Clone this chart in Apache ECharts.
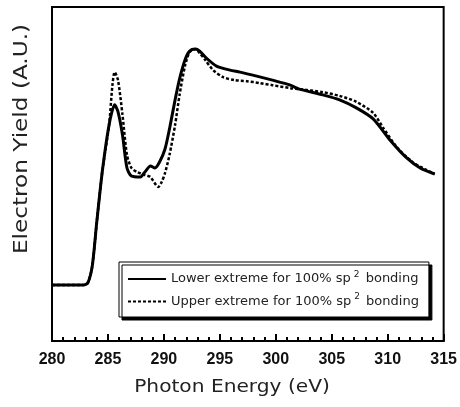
<!DOCTYPE html>
<html>
<head>
<meta charset="utf-8">
<script src="https://cdn.jsdelivr.net/npm/echarts@6/dist/echarts.min.js"></script>
<style>
html,body{margin:0;padding:0;background:#fff;}
#chart{width:460px;height:407px;}
</style>
</head>
<body>
<div id="chart"></div>
<script>
// Photon energy (eV) and electron yield (arbitrary units)
var lowerExtreme = [
  [280.0,0.168],[282.8,0.168],[283.2,0.174],[283.6,0.225],[284.0,0.356],[284.5,0.509],
  [285.1,0.647],[285.6,0.707],[285.9,0.686],[286.3,0.617],[286.7,0.518],[287.1,0.494],
  [287.9,0.491],[288.3,0.506],[288.8,0.524],[289.2,0.518],[289.6,0.535],[290.1,0.575],
  [290.5,0.635],[291.0,0.722],[291.4,0.785],[291.9,0.843],[292.3,0.868],[292.8,0.874],
  [293.2,0.868],[293.8,0.847],[294.7,0.823],[295.9,0.811],[296.8,0.805],[298.3,0.793],
  [299.7,0.781],[301.3,0.766],[302.1,0.754],[304.2,0.737],[305.7,0.722],[307.2,0.698],
  [308.7,0.665],[310.2,0.602],[311.7,0.548],[312.9,0.518],[314.2,0.500]
];
var upperExtreme = [
  [280.0,0.168],[282.8,0.168],[283.2,0.174],[283.6,0.225],[284.0,0.356],[284.5,0.509],
  [285.1,0.647],[285.4,0.766],[285.6,0.805],[285.9,0.781],[286.3,0.677],[286.7,0.557],
  [287.1,0.518],[287.6,0.506],[288.3,0.497],[288.8,0.491],[289.5,0.461],[289.8,0.476],
  [290.1,0.503],[290.5,0.557],[291.0,0.647],[291.4,0.737],[291.9,0.826],[292.3,0.865],
  [292.8,0.874],[293.2,0.862],[293.7,0.841],[294.4,0.811],[295.3,0.790],[296.3,0.781],
  [297.4,0.778],[298.6,0.772],[299.7,0.766],[301.3,0.757],[302.1,0.754],[304.2,0.745],
  [305.7,0.734],[307.2,0.716],[308.7,0.683],[309.6,0.638],[310.8,0.581],[312.2,0.536],
  [313.3,0.515],[314.2,0.500]
];
var seriesNames = ['Lower extreme for 100% sp2 bonding', 'Upper extreme for 100% sp2 bonding'];
var xTitle = 'Photon Energy (eV)';
var yTitle = 'Electron Yield (A.U.)';

var chart = echarts.init(document.getElementById('chart'), null, {renderer:'canvas'});
var option = {
  animation: false,
  backgroundColor: '#fff',
  grid: {left: 52, right: 16, top: 7, bottom: 66, show: true, borderColor: '#000', borderWidth: 2, backgroundColor: 'transparent'},
  xAxis: {
    type: 'value', min: 280, max: 315, interval: 5,
    axisLine: {show: true, onZero: false, lineStyle: {color: '#000', width: 2}},
    axisTick: {show: true, inside: true, length: 7, lineStyle: {color: '#000', width: 2}},
    minorTick: {show: true, splitNumber: 5, length: 4, lineStyle: {color: '#000', width: 2}},
    splitLine: {show: false},
    axisLabel: {margin: 11, color: '#111', fontFamily: 'Liberation Sans', fontWeight: 'bold', fontSize: 16}
  },
  yAxis: {
    type: 'value', min: 0, max: 1,
    axisLine: {show: true, lineStyle: {color: '#000', width: 2}},
    axisTick: {show: false}, axisLabel: {show: false}, splitLine: {show: false}
  },
  legend: {
    orient: 'vertical', left: 119, top: 262,
    padding: [8, 10, 9, 8], itemGap: 7, itemWidth: 38, itemHeight: 14,
    backgroundColor: '#fff', borderColor: '#000', borderWidth: 1,
    shadowColor: '#000', shadowOffsetX: 3, shadowOffsetY: 3, shadowBlur: 0,
    itemStyle: {opacity: 0},
    textStyle: {color: '#222', fontFamily: 'DejaVu Sans', fontSize: 13,
      rich: {
        a: {color: '#222', fontFamily: 'DejaVu Sans', fontSize: 13},
        s: {color: '#222', fontFamily: 'DejaVu Sans', fontSize: 9, padding: [0, 2, 9, 3]}
      }
    },
    formatter: function (name) {
      var parts = name.split('sp2');
      return '{a|' + parts[0] + 'sp}{s|2}{a|' + parts[1] + '}';
    },
    data: [seriesNames[0], seriesNames[1]]
  },
  graphic: [
    {type: 'text', style: {text: xTitle, font: '18px "DejaVu Sans"', fill: '#222', textAlign: 'center', textVerticalAlign: 'middle'}, x: 232, y: 387, scaleX: 1.12},
    {type: 'text', style: {text: yTitle, font: '19px "DejaVu Sans"', fill: '#222', textAlign: 'center', textVerticalAlign: 'middle'}, x: 22, y: 139, rotation: Math.PI / 2, scaleX: 1.22}
  ],
  series: [
    {
      name: seriesNames[1], type: 'line', data: upperExtreme, smooth: 0.25, symbol: 'none',
      lineStyle: {color: '#000', width: 2.5, type: [3, 2]}, itemStyle: {color: '#000'}, z: 2
    },
    {
      name: seriesNames[0], type: 'line', data: lowerExtreme, smooth: 0.25, symbol: 'none',
      lineStyle: {color: '#000', width: 3}, itemStyle: {color: '#000'}, z: 3
    }
  ]
};
chart.setOption(option);
</script>
</body>
</html>
